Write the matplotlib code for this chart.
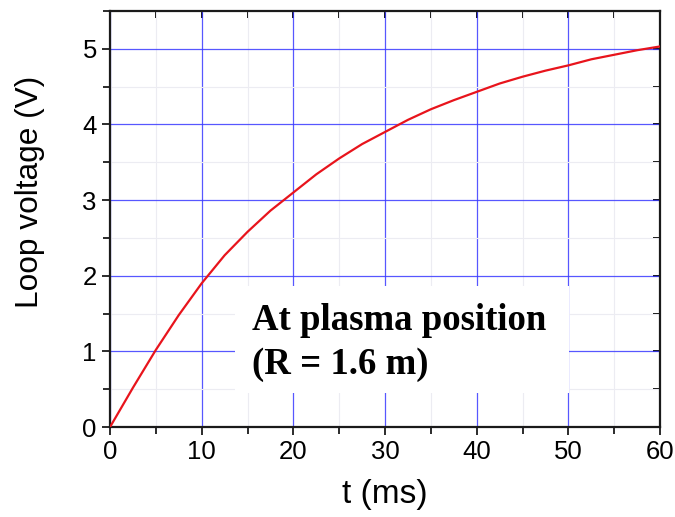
import matplotlib
matplotlib.use('Agg')
import matplotlib.pyplot as plt
from matplotlib.patches import Rectangle
from matplotlib.ticker import MultipleLocator

# Loop voltage
t_ms = [0, 2.5, 5, 7.5, 10, 12.5, 15, 17.5, 20, 22.5, 25, 27.5, 30,
        32.5, 35, 37.5, 40, 42.5, 45, 47.5, 50, 52.5, 55, 57.5, 60]
loop_v = [0, 0.52, 1.02, 1.48, 1.9, 2.27, 2.58, 2.86, 3.1, 3.34, 3.55, 3.74, 3.9,
          4.06, 4.2, 4.32, 4.43, 4.54, 4.63, 4.71, 4.78, 4.86, 4.92, 4.98, 5.03]

x_label = "t (ms)"
y_label = "Loop voltage (V)"
note_lines = ["At plasma position", "(R = 1.6 m)"]

plt.rcParams['font.family'] = ['Liberation Sans', 'DejaVu Sans']

fig = plt.figure(figsize=(6.75, 5.17), dpi=100)
ax = fig.add_axes([0.163, 0.174, 0.815, 0.805])

ax.plot(t_ms, loop_v, color='#e8141c', lw=1.6, zorder=3)

ax.set_xlim(0, 60)
ax.set_ylim(0, 5.5)
ax.xaxis.set_major_locator(MultipleLocator(10))
ax.xaxis.set_minor_locator(MultipleLocator(5))
ax.yaxis.set_major_locator(MultipleLocator(1))
ax.yaxis.set_minor_locator(MultipleLocator(0.5))

ax.grid(True, which='major', color='#3a3aff', lw=0.9, alpha=0.85)
ax.grid(True, which='minor', color='#ececf2', lw=0.8)
ax.set_axisbelow(True)

for s in ax.spines.values():
    s.set_linewidth(1.6)
    s.set_color('#1a1a1a')

ax.tick_params(which='both', direction='out', top=False, right=False,
               width=1.3, color='#1a1a1a', labelsize=18.5)
ax.tick_params(which='major', length=6)
ax.tick_params(which='minor', length=5)

# inward ticks on top and right, as in the original
sec_x = ax.secondary_xaxis('top')
sec_x.xaxis.set_major_locator(MultipleLocator(5))
sec_x.tick_params(direction='in', length=5, width=1.3, labeltop=False)
sec_x.spines['top'].set_visible(False)
sec_y = ax.secondary_yaxis('right')
sec_y.yaxis.set_major_locator(MultipleLocator(0.5))
sec_y.tick_params(direction='in', length=5, width=1.3, labelright=False)
sec_y.spines['right'].set_visible(False)

ax.set_xlabel(x_label, fontsize=24)
ax.xaxis.set_label_coords(0.5, -0.125)
ax.set_ylabel(y_label, fontsize=22.8)
ax.yaxis.set_label_coords(-0.118, 0.565)

# white note box covering the grid
ax.add_patch(Rectangle((0.227, 0.082), 0.608, 0.257, transform=ax.transAxes,
                       facecolor='white', edgecolor='none', zorder=4))
ax.text(0.258, 0.233, note_lines[0], transform=ax.transAxes, va='baseline',
        family='Liberation Serif', weight='bold', fontsize=26.5, zorder=5)
ax.text(0.258, 0.127, note_lines[1], transform=ax.transAxes, va='baseline',
        family='Liberation Serif', weight='bold', fontsize=26.5, zorder=5)

fig.savefig('out.png', dpi=100)
